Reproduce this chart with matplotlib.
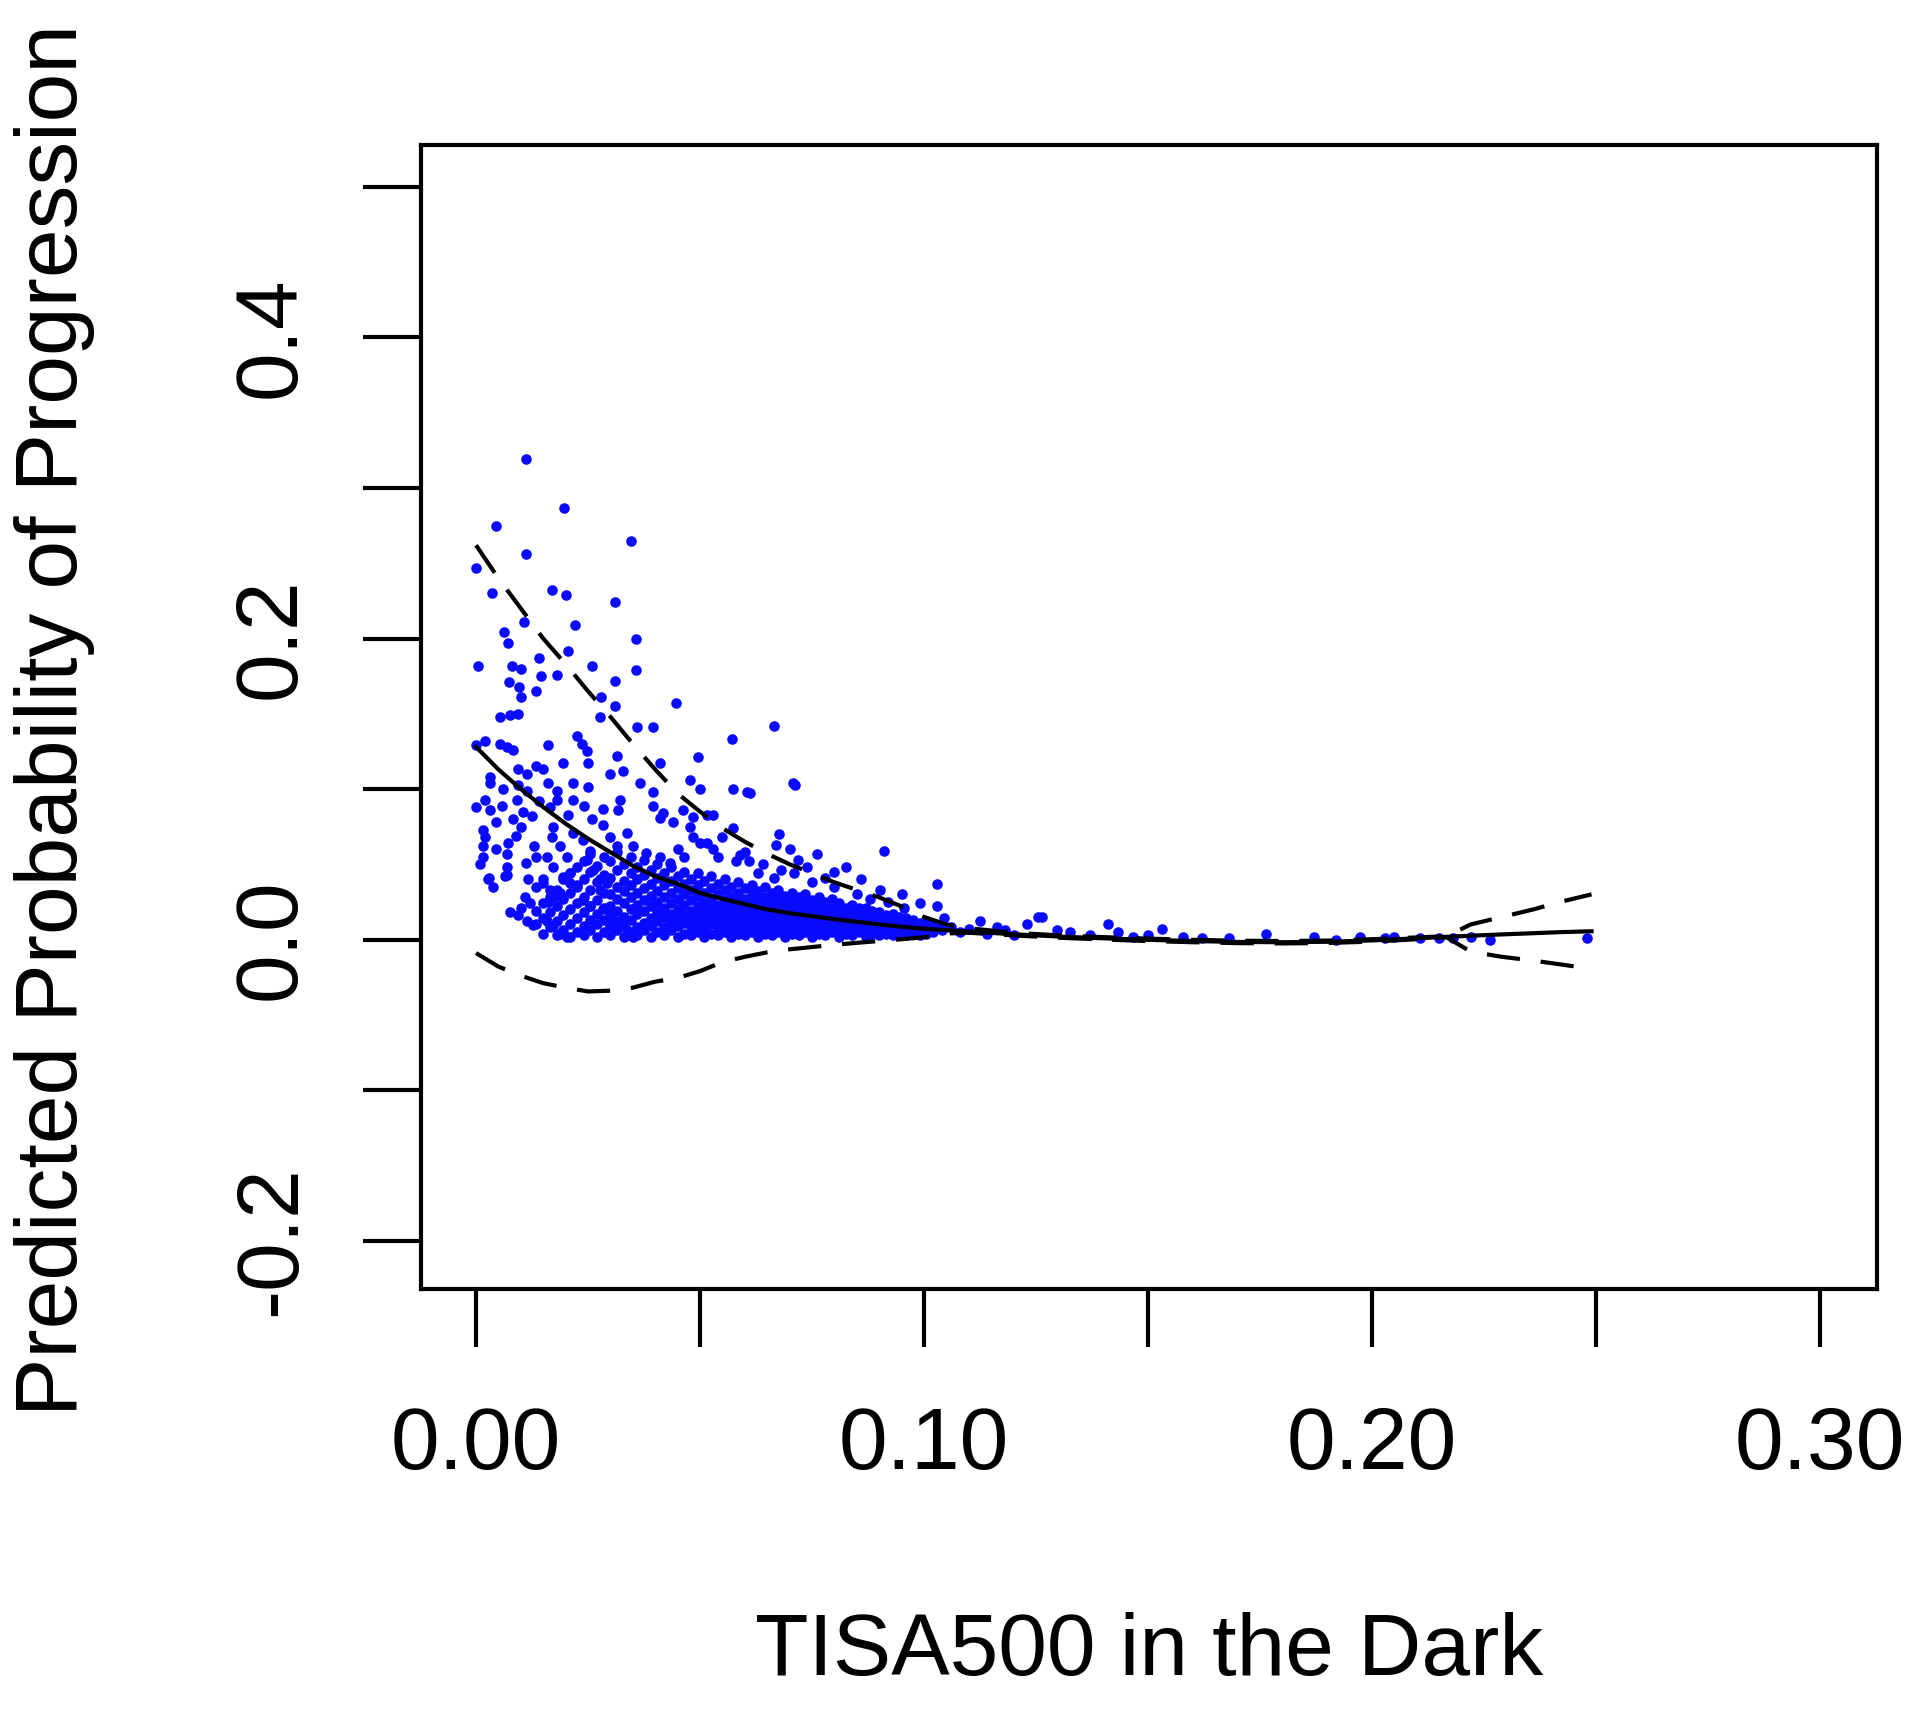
import numpy as np
import matplotlib
matplotlib.use("Agg")
import matplotlib.pyplot as plt

plt.rcParams['font.family'] = ['Liberation Sans', 'DejaVu Sans']

# sparse points high up (x = TISA500, y = predicted probability)
top_x = [0.0111, 0.0196, 0.0045, 0.0345, 0.0111, 0.0000, 0.0035, 0.0170, 0.0201, 0.0310,
         0.0106, 0.0221, 0.0063, 0.0072, 0.0356, 0.0005, 0.0081, 0.0100, 0.0141, 0.0206,
         0.0260, 0.0356, 0.0145, 0.0180, 0.0074, 0.0310, 0.0097, 0.0135, 0.0100, 0.0280,
         0.0310, 0.0446, 0.0054, 0.0094, 0.0277, 0.0076]
top_y = [0.319, 0.287, 0.275, 0.265, 0.256, 0.247, 0.230, 0.232, 0.229, 0.224,
         0.211, 0.209, 0.204, 0.197, 0.200, 0.182, 0.182, 0.180, 0.187, 0.192,
         0.182, 0.179, 0.175, 0.176, 0.171, 0.172, 0.168, 0.165, 0.161, 0.161,
         0.155, 0.157, 0.148, 0.150, 0.148, 0.149]

# left part, low TISA values
left_x = [0.0000, 0.0020, 0.0054, 0.0069, 0.0083, 0.0031, 0.0031, 0.0000, 0.0020, 0.0031,
          0.0057, 0.0091, 0.0083, 0.0101, 0.0016, 0.0020, 0.0016, 0.0016, 0.0072, 0.0069,
          0.0069, 0.0065, 0.0027, 0.0038, 0.0094, 0.0113, 0.0135, 0.0150, 0.0094, 0.0113,
          0.0161, 0.0225, 0.0236, 0.0247, 0.0195, 0.0251, 0.0299, 0.0329, 0.0217, 0.0251,
          0.0180, 0.0165, 0.0180, 0.0217, 0.0240, 0.0284, 0.0321, 0.0317, 0.0112, 0.0130,
          0.0134, 0.0172, 0.0169, 0.0188, 0.0202, 0.0158, 0.0172, 0.0217, 0.0239, 0.0254,
          0.0284, 0.0299, 0.0314, 0.0336, 0.0350, 0.0247, 0.0262, 0.0277, 0.0210, 0.0225,
          0.0150, 0.0165, 0.0030, 0.0070, 0.0110, 0.0120, 0.0076, 0.0094, 0.0114, 0.0127,
          0.0158, 0.0172, 0.0188, 0.0203, 0.0160, 0.0175, 0.0188, 0.0210, 0.0195, 0.0150,
          0.0239, 0.0254, 0.0277, 0.0292, 0.0284, 0.0299, 0.0337, 0.0350, 0.0105, 0.0125,
          0.0045, 0.0140, 0.0060, 0.0160, 0.0205, 0.0260, 0.0010, 0.0045, 0.0090, 0.0115,
          0.0135, 0.0100]
left_y = [0.129, 0.132, 0.130, 0.128, 0.126, 0.108, 0.104, 0.088, 0.093, 0.086,
          0.089, 0.093, 0.080, 0.075, 0.073, 0.068, 0.062, 0.055, 0.064, 0.057,
          0.048, 0.042, 0.040, 0.035, 0.113, 0.110, 0.115, 0.113, 0.103, 0.099,
          0.129, 0.135, 0.130, 0.125, 0.117, 0.117, 0.110, 0.112, 0.104, 0.1015,
          0.099, 0.088, 0.093, 0.093, 0.089, 0.087, 0.093, 0.086, 0.051, 0.062,
          0.055, 0.075, 0.068, 0.062, 0.055, 0.055, 0.048, 0.071, 0.066, 0.059,
          0.076, 0.068, 0.062, 0.071, 0.062, 0.053, 0.046, 0.040, 0.044, 0.035,
          0.040, 0.033, 0.041, 0.043, 0.028, 0.024, 0.018, 0.016, 0.012, 0.0096,
          0.012, 0.009, 0.004, 0.002, 0.025, 0.028, 0.031, 0.0375, 0.0415, 0.0375,
          0.026, 0.022, 0.033, 0.0375, 0.020, 0.013, 0.006, 0.002, 0.0845, 0.082,
          0.078, 0.092, 0.100, 0.104, 0.083, 0.080, 0.050, 0.060, 0.069, 0.040,
          0.035, 0.021]

# scattered points above the dense band
mid_x = [0.0666, 0.0612, 0.0712, 0.0677, 0.0670, 0.0762, 0.0911, 0.0826, 0.1028, 0.0719,
         0.0738, 0.0902, 0.0571, 0.0359, 0.0396, 0.0314, 0.0411, 0.0496, 0.0574, 0.0500,
         0.0478, 0.0366, 0.0574, 0.0396, 0.0418, 0.0411, 0.0440, 0.0463, 0.0485, 0.0515,
         0.0530, 0.0478, 0.0485, 0.0500, 0.0515, 0.0380, 0.0411, 0.0433, 0.0590, 0.0610,
         0.0640, 0.0680, 0.0710, 0.0630, 0.0665, 0.0750, 0.0780, 0.0800, 0.0850, 0.0880,
         0.0920, 0.0580, 0.0540, 0.0600, 0.0550, 0.0530, 0.0450, 0.0465, 0.0700, 0.0800,
         0.0860, 0.0950, 0.0990, 0.0396, 0.0605, 0.0708]
mid_y = [0.142, 0.0975, 0.1027, 0.070, 0.063, 0.057, 0.059, 0.048, 0.037, 0.053,
         0.048, 0.033, 0.133, 0.141, 0.141, 0.122, 0.117, 0.121, 0.100, 0.100,
         0.106, 0.104, 0.074, 0.089, 0.084, 0.0805, 0.078, 0.086, 0.0816, 0.083,
         0.083, 0.075, 0.068, 0.064, 0.064, 0.0575, 0.055, 0.0506, 0.056, 0.052,
         0.050, 0.046, 0.044, 0.044, 0.041, 0.038, 0.041, 0.035, 0.030, 0.027,
         0.025, 0.052, 0.055, 0.058, 0.068, 0.060, 0.060, 0.055, 0.060, 0.045,
         0.040, 0.030, 0.024, 0.098, 0.098, 0.104]

# dense band, read column by column
band_x = [0.0135, 0.0150, 0.0165, 0.0180, 0.0195, 0.0210, 0.0225, 0.0240, 0.0255, 0.0270,
          0.0285, 0.0300, 0.0315, 0.0330, 0.0345, 0.0360, 0.0375, 0.0390, 0.0405, 0.0420,
          0.0435, 0.0450, 0.0465, 0.0480, 0.0495, 0.0510, 0.0525, 0.0540, 0.0555, 0.0570,
          0.0585, 0.0600, 0.0615, 0.0630, 0.0645, 0.0660, 0.0675, 0.0690, 0.0705, 0.0720,
          0.0735, 0.0750, 0.0765, 0.0780, 0.0795, 0.0810, 0.0825, 0.0840, 0.0855, 0.0870,
          0.0885, 0.0900, 0.0915, 0.0930, 0.0945, 0.0960, 0.0975, 0.0990, 0.1005, 0.1020,
          0.1040]
band_y = [
    [0.010, 0.019],
    [0.004, 0.014, 0.024],
    [0.008, 0.018, 0.028],
    [0.003, 0.012, 0.022, 0.033],
    [0.006, 0.016, 0.027, 0.040],
    [0.002, 0.010, 0.020, 0.031, 0.044],
    [0.005, 0.014, 0.024, 0.036, 0.048],
    [0.003, 0.009, 0.018, 0.028, 0.040, 0.052],
    [0.006, 0.013, 0.022, 0.033, 0.045, 0.057],
    [0.002, 0.010, 0.017, 0.026, 0.038, 0.049],
    [0.005, 0.013, 0.021, 0.031, 0.043, 0.055],
    [0.003, 0.009, 0.016, 0.022, 0.030, 0.041, 0.052],
    [0.006, 0.012, 0.019, 0.027, 0.035, 0.046, 0.058],
    [0.002, 0.010, 0.015, 0.024, 0.032, 0.039, 0.050],
    [0.005, 0.013, 0.020, 0.028, 0.036, 0.044, 0.055],
    [0.003, 0.008, 0.017, 0.023, 0.031, 0.040, 0.048],
    [0.006, 0.011, 0.019, 0.026, 0.034, 0.043, 0.053],
    [0.002, 0.009, 0.014, 0.022, 0.029, 0.037, 0.046],
    [0.005, 0.012, 0.018, 0.025, 0.032, 0.041, 0.050],
    [0.003, 0.008, 0.015, 0.021, 0.028, 0.036, 0.044],
    [0.006, 0.011, 0.017, 0.024, 0.031, 0.039, 0.048],
    [0.002, 0.009, 0.014, 0.020, 0.027, 0.034, 0.042],
    [0.004, 0.011, 0.016, 0.023, 0.030, 0.037, 0.045],
    [0.003, 0.008, 0.013, 0.019, 0.026, 0.033, 0.040],
    [0.005, 0.010, 0.016, 0.022, 0.029, 0.036, 0.044],
    [0.002, 0.007, 0.013, 0.018, 0.024, 0.031, 0.039],
    [0.004, 0.010, 0.015, 0.021, 0.027, 0.034, 0.042],
    [0.003, 0.008, 0.012, 0.018, 0.023, 0.030, 0.037],
    [0.005, 0.010, 0.015, 0.020, 0.026, 0.033, 0.040],
    [0.002, 0.007, 0.012, 0.017, 0.022, 0.028, 0.035],
    [0.004, 0.009, 0.014, 0.019, 0.025, 0.031, 0.038],
    [0.003, 0.007, 0.011, 0.016, 0.021, 0.027, 0.034],
    [0.005, 0.009, 0.013, 0.018, 0.024, 0.030, 0.036],
    [0.002, 0.006, 0.011, 0.015, 0.020, 0.026, 0.032],
    [0.004, 0.008, 0.013, 0.017, 0.022, 0.028, 0.035],
    [0.003, 0.006, 0.010, 0.015, 0.019, 0.025, 0.031],
    [0.005, 0.008, 0.012, 0.017, 0.021, 0.027, 0.033],
    [0.002, 0.006, 0.010, 0.014, 0.018, 0.023, 0.029],
    [0.004, 0.008, 0.012, 0.016, 0.020, 0.026, 0.031],
    [0.003, 0.006, 0.009, 0.013, 0.017, 0.022, 0.028],
    [0.005, 0.008, 0.011, 0.015, 0.019, 0.024, 0.030],
    [0.002, 0.006, 0.009, 0.012, 0.016, 0.021, 0.026],
    [0.004, 0.007, 0.011, 0.014, 0.018, 0.023, 0.028],
    [0.003, 0.006, 0.009, 0.012, 0.016, 0.020, 0.025],
    [0.005, 0.008, 0.011, 0.014, 0.018, 0.022, 0.027],
    [0.002, 0.005, 0.008, 0.011, 0.015, 0.019, 0.024],
    [0.004, 0.007, 0.010, 0.013, 0.017, 0.021],
    [0.003, 0.006, 0.009, 0.012, 0.015, 0.019, 0.023],
    [0.005, 0.008, 0.011, 0.014, 0.018, 0.021],
    [0.002, 0.005, 0.008, 0.011, 0.014, 0.017, 0.021],
    [0.004, 0.007, 0.010, 0.013, 0.016, 0.019],
    [0.003, 0.006, 0.008, 0.011, 0.014, 0.018],
    [0.004, 0.007, 0.010, 0.012, 0.016],
    [0.003, 0.005, 0.008, 0.011, 0.014, 0.017],
    [0.004, 0.007, 0.009, 0.012, 0.015],
    [0.003, 0.006, 0.008, 0.011, 0.014],
    [0.004, 0.007, 0.010, 0.013],
    [0.003, 0.006, 0.008, 0.011],
    [0.004, 0.007, 0.009, 0.012],
    [0.005, 0.008, 0.010],
    [0.006, 0.009],
]

# thin tail to the right
tail_x = [0.0955, 0.1028, 0.1044, 0.1125, 0.1162, 0.1229, 0.1254, 0.1263, 0.1296, 0.1326,
          0.1411, 0.1434, 0.1467, 0.1532, 0.1579, 0.1763, 0.1870, 0.1973, 0.2029, 0.2107,
          0.2263, 0.2480, 0.1060, 0.1080, 0.1100, 0.1140, 0.1180, 0.1200, 0.1370, 0.1500,
          0.1620, 0.1680, 0.1920, 0.2180, 0.2220, 0.2150, 0.2050]
tail_y = [0.021, 0.022, 0.014, 0.012, 0.0085, 0.010, 0.015, 0.015, 0.006, 0.005,
          0.010, 0.005, 0.002, 0.007, 0.002, 0.004, 0.002, 0.002, 0.001, 0.001,
          0.000, 0.001, 0.008, 0.005, 0.007, 0.004, 0.006, 0.003, 0.003, 0.003,
          0.001, 0.001, 0.000, 0.001, 0.002, 0.001, 0.002]

# fitted curve and confidence band
fit_x = [0.000, 0.005, 0.010, 0.015, 0.020, 0.025, 0.030, 0.035, 0.040, 0.045,
         0.050, 0.055, 0.060, 0.065, 0.070, 0.075, 0.080, 0.085, 0.090, 0.095,
         0.100, 0.105, 0.110, 0.120, 0.130, 0.140, 0.150, 0.160, 0.170, 0.180,
         0.190, 0.200, 0.210, 0.2167, 0.222, 0.229, 0.236, 0.242, 0.249]
fit_mid = [0.128, 0.113, 0.100, 0.088, 0.077, 0.067, 0.058, 0.049, 0.042, 0.037,
           0.031, 0.027, 0.0235, 0.020, 0.0175, 0.0155, 0.0135, 0.0118, 0.010, 0.0085,
           0.0072, 0.0062, 0.0053, 0.0035, 0.002, 0.0008, -0.0002, -0.001, -0.0016, -0.0018,
           -0.0015, -0.0006, 0.0008, 0.0018, 0.0025, 0.0034, 0.0042, 0.0049, 0.0055]
fit_up = [0.262, 0.240, 0.220, 0.200, 0.183, 0.165, 0.148, 0.130, 0.113, 0.097,
          0.085, 0.074, 0.065, 0.057, 0.050, 0.044, 0.038, 0.033, 0.028, 0.022,
          0.015, 0.010, 0.0075, 0.0045, 0.0028, 0.0016, 0.0006, -0.0002, -0.0008, -0.001,
          -0.0007, 0.0002, 0.0014, 0.0022, 0.010, 0.015, 0.020, 0.025, 0.030]
fit_lo = [-0.009, -0.018, -0.024, -0.029, -0.032, -0.0345, -0.034, -0.032, -0.028, -0.0255,
          -0.021, -0.015, -0.0115, -0.0085, -0.0065, -0.005, -0.0035, -0.0022, -0.001, 0.0002,
          0.0015, 0.004, 0.0045, 0.0027, 0.0012, 0.0, -0.001, -0.0018, -0.0024, -0.0026,
          -0.0023, -0.0014, 0.0002, 0.0014, -0.008, -0.0115, -0.014, -0.0165, -0.0195]

band_px = []
band_py = []
for bx, ys in zip(band_x, band_y):
    for by in ys:
        band_px.append(bx)
        band_py.append(by)

all_x = np.concatenate([top_x, left_x, mid_x, band_px, tail_x])
all_y = np.concatenate([top_y, left_y, mid_y, band_py, tail_y])

W, H = 1920, 1713
fig = plt.figure(figsize=(W/100, H/100), dpi=100)
ax = fig.add_axes([421/W, 1-1289/H, 1456/W, 1144/H])

ax.scatter(all_x, all_y, s=58, c='#0a0aff', linewidths=0, zorder=2)
ax.plot(fit_x, fit_mid, color='black', lw=3, zorder=3)
ax.plot(fit_x, fit_up, color='black', lw=3, ls=(0, (8, 5)), zorder=3)
ax.plot(fit_x, fit_lo, color='black', lw=3, ls=(0, (8, 5)), zorder=3)

ax.set_xlim(-0.01228, 0.31272)
ax.set_ylim(-0.2322, 0.5279)

xt = [0.00, 0.05, 0.10, 0.15, 0.20, 0.25, 0.30]
xl = ['0.00', '', '0.10', '', '0.20', '', '0.30']
yt = [-0.2, -0.1, 0.0, 0.1, 0.2, 0.3, 0.4, 0.5]
yl = ['-0.2', '', '0.0', '', '0.2', '', '0.4', '']
ax.set_xticks(xt)
ax.set_xticklabels(xl)
ax.set_yticks(yt)
ax.set_yticklabels(yl, rotation=90, va='center')

for s in ax.spines.values():
    s.set_linewidth(3)
ax.tick_params(direction='out', length=42, width=3, labelsize=63, color='black')
ax.tick_params(axis='x', pad=42)
ax.tick_params(axis='y', pad=36)

fig.text(1149/W, 1-1653/H, 'TISA500 in the Dark', ha='center', va='center', fontsize=63)
fig.text(55/W, 1-720/H, 'Predicted Probability of Progression', ha='center', va='center',
         rotation=90, fontsize=63)

fig.savefig('out.png', dpi=100, facecolor='white')
